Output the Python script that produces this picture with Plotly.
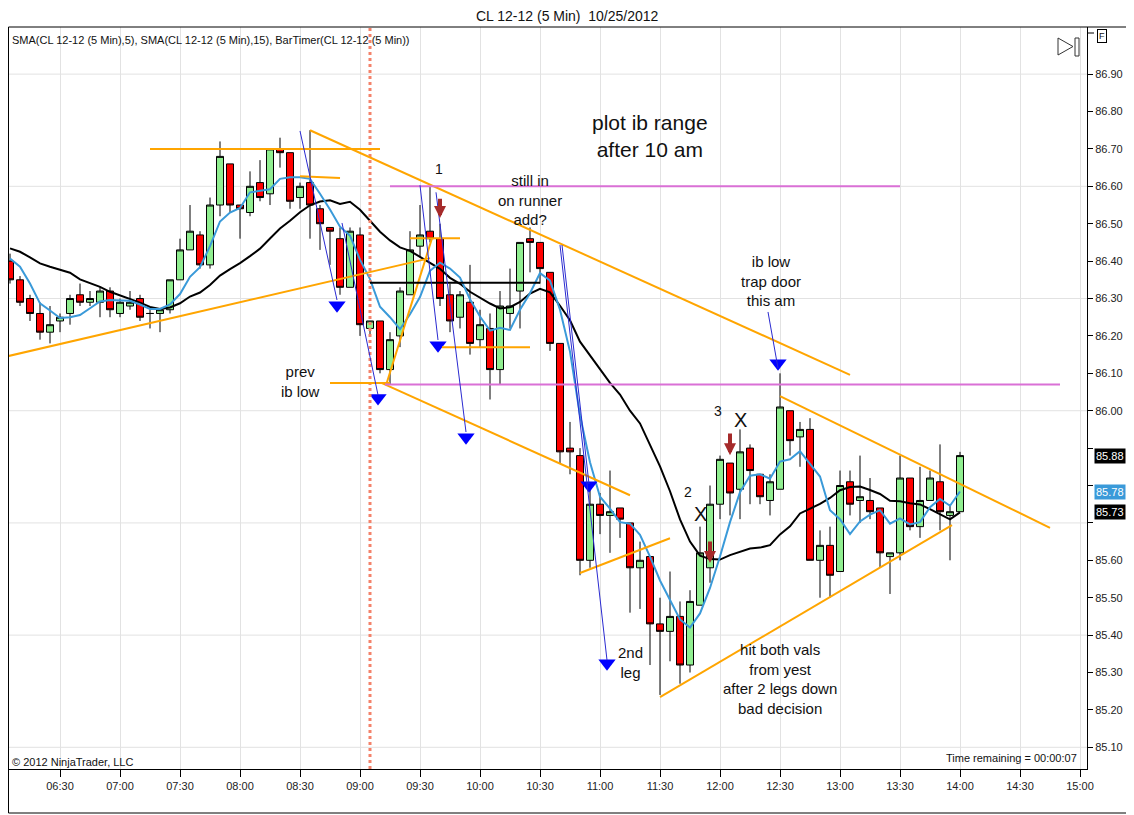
import pandas as pd
import plotly.graph_objects as go

DAY = "2012-10-25 "

# 5 minute bars, 06:05 .. 14:00
times = pd.date_range(DAY + "06:05", periods=96, freq="5min")

opens = [86.40, 86.35, 86.30, 86.26, 86.21, 86.24, 86.26, 86.31, 86.29, 86.29, 86.32, 86.26,
         86.28, 86.30, 86.26, 86.26, 86.27, 86.35, 86.43, 86.47, 86.39, 86.55, 86.66, 86.55,
         86.53, 86.61, 86.58, 86.70, 86.69, 86.57, 86.61, 86.54, 86.49, 86.46, 86.33, 86.47,
         86.22, 86.24, 86.11, 86.20, 86.31, 86.44, 86.48, 86.46, 86.31, 86.25, 86.29, 86.19,
         86.22, 86.11, 86.26, 86.32, 86.46, 86.45, 86.37, 86.18, 85.90, 85.88, 85.60, 85.75,
         85.72, 85.74, 85.70, 85.58, 85.61, 85.43, 85.41, 85.45, 85.32, 85.48, 85.58, 85.75,
         85.86, 85.79, 85.90, 85.83, 85.76, 85.79, 86.00, 85.93, 85.95, 85.60, 85.64, 85.57,
         85.81, 85.76, 85.76, 85.74, 85.61, 85.62, 85.82, 85.69, 85.76, 85.81, 85.72, 85.73]
highs = [86.42, 86.36, 86.31, 86.29, 86.28, 86.26, 86.31, 86.34, 86.32, 86.33, 86.33, 86.30,
         86.32, 86.31, 86.27, 86.27, 86.35, 86.46, 86.55, 86.48, 86.57, 86.72, 86.66, 86.55,
         86.64, 86.67, 86.70, 86.73, 86.69, 86.61, 86.75, 86.55, 86.49, 86.49, 86.49, 86.49,
         86.24, 86.24, 86.21, 86.33, 86.48, 86.55, 86.60, 86.50, 86.34, 86.32, 86.39, 86.27,
         86.26, 86.32, 86.38, 86.45, 86.49, 86.45, 86.37, 86.18, 85.97, 85.90, 85.80, 85.78,
         85.84, 85.74, 85.70, 85.65, 85.61, 85.50, 85.57, 85.49, 85.52, 85.69, 85.80, 85.88,
         85.86, 85.95, 85.91, 85.83, 85.83, 86.10, 86.00, 85.97, 85.98, 85.68, 85.69, 85.84,
         85.84, 85.88, 85.82, 85.74, 85.62, 85.88, 85.82, 85.85, 85.84, 85.91, 85.75, 85.89]
lows = [86.34, 86.28, 86.24, 86.19, 86.18, 86.21, 86.23, 86.28, 86.28, 86.25, 86.25, 86.25,
        86.27, 86.24, 86.22, 86.21, 86.26, 86.35, 86.43, 86.38, 86.38, 86.52, 86.53, 86.46,
        86.52, 86.56, 86.55, 86.65, 86.54, 86.54, 86.46, 86.43, 86.39, 86.31, 86.33, 86.20,
        86.20, 86.10, 86.07, 86.17, 86.31, 86.41, 86.45, 86.28, 86.21, 86.22, 86.15, 86.17,
        86.03, 86.07, 86.22, 86.22, 86.37, 86.34, 86.16, 85.86, 85.83, 85.56, 85.58, 85.67,
        85.62, 85.66, 85.46, 85.47, 85.32, 85.24, 85.33, 85.27, 85.30, 85.48, 85.54, 85.71,
        85.72, 85.71, 85.75, 85.75, 85.72, 85.79, 85.88, 85.85, 85.60, 85.50, 85.50, 85.57,
        85.72, 85.70, 85.71, 85.58, 85.51, 85.60, 85.68, 85.66, 85.76, 85.68, 85.60, 85.73]
closes = [86.35, 86.29, 86.26, 86.21, 86.23, 86.25, 86.30, 86.29, 86.30, 86.32, 86.27, 86.29,
          86.29, 86.25, 86.26, 86.27, 86.35, 86.43, 86.48, 86.39, 86.55, 86.68, 86.55, 86.54,
          86.60, 86.57, 86.70, 86.69, 86.56, 86.60, 86.55, 86.50, 86.48, 86.33, 86.48, 86.23,
          86.24, 86.11, 86.19, 86.32, 86.43, 86.47, 86.46, 86.30, 86.24, 86.31, 86.18, 86.23,
          86.11, 86.28, 86.28, 86.45, 86.45, 86.38, 86.18, 85.89, 85.89, 85.60, 85.75, 85.72,
          85.73, 85.71, 85.58, 85.60, 85.43, 85.41, 85.45, 85.32, 85.49, 85.62, 85.75, 85.87,
          85.78, 85.89, 85.84, 85.77, 85.81, 86.01, 85.92, 85.95, 85.60, 85.64, 85.56, 85.80,
          85.75, 85.77, 85.73, 85.62, 85.62, 85.82, 85.69, 85.76, 85.82, 85.73, 85.73, 85.88]

# indicator values visible on the first bars (need history before 06:05)
sma5_head = [86.407, 86.385, 86.34, 86.287]
sma15_head = [86.434, 86.425, 86.41, 86.394, 86.385, 86.378, 86.369, 86.351, 86.342,
              86.331, 86.318, 86.309, 86.30, 86.289]

# hand drawn objects: (start time, start price, end time, end price)
orange_lines = [
    ("07:15", 86.70, "09:10", 86.70),
    ("08:30", 86.627, "08:50", 86.622),
    ("08:35", 86.75, "13:05", 86.096),
    ("06:00", 86.141, "09:35", 86.408),
    ("09:13", 86.068, "09:36", 86.461),
    ("09:25", 86.461, "09:50", 86.461),
    ("08:45", 86.074, "09:15", 86.074),
    ("09:11", 86.074, "11:15", 85.774),
    ("09:41", 86.17, "10:25", 86.17),
    ("12:30", 86.039, "14:45", 85.687),
    ("11:30", 85.234, "13:56", 85.694),
    ("10:50", 85.566, "11:35", 85.659),
]
black_lines = [("09:05", 86.342, "10:30", 86.342)]
magenta_lines = [("09:15", 86.60, "13:30", 86.60), ("09:12:30", 86.07, "14:50", 86.07)]
blue_lines = [
    ("08:30", 86.748, "08:48:30", 86.296),
    ("08:51", 86.502, "09:09", 86.042),
    ("09:30", 86.603, "09:39", 86.189),
    ("09:38", 86.584, "09:53", 85.943),
    ("10:41", 86.443, "10:54:30", 85.804),
    ("10:40", 86.443, "11:03:30", 85.333),
    ("12:24", 86.264, "12:29", 86.114),
]
blue_head_times = ["08:48:30", "09:09", "09:39", "09:53", "10:54:30", "11:03:30", "12:29"]
blue_head_prices = [86.282, 86.034, 86.175, 85.929, 85.801, 85.325, 86.127]

# dark red signal arrows: time, tip price, tail price
signal_arrows = [("09:40", 86.515, 86.571), ("12:05", 85.881, 85.943), ("11:55", 85.593, 85.654)]

notes = [
    ("11:25", 86.734, "plot ib range<br>after 10 am", 21),
    ("10:25", 86.563, "still in<br>on runner<br>add?", 15),
    ("12:25:30", 86.346, "ib low<br>trap door<br>this am", 15),
    ("08:30", 86.079, "prev<br>ib low", 15),
    ("09:39:30", 86.646, "1", 14),
    ("11:44", 85.782, "2", 14),
    ("11:59", 85.999, "3", 14),
    ("11:50", 85.724, "X", 20),
    ("12:10", 85.975, "X", 20),
    ("11:15", 85.328, "2nd<br>leg", 15),
    ("12:30", 85.282, "hit both vals<br>from yest<br>after 2 legs down<br>bad decision", 15),
]

grid_prices = [85.10, 85.40, 85.70, 86.00, 86.30, 86.60, 86.90]
price_ticks = [round(85.10 + 0.10 * i, 2) for i in range(19)]
session_mark = "09:05"

FONT = "Liberation Sans, Arial, sans-serif"
# the page puts the figure 8px in from the top-left corner
OFF = 8
W, H = 1134 - OFF, 815 - OFF
L, R, T, B = 8, 1087, 27, 769   # plot box in window pixels


def t(hm):
    return DAY + hm if hm.count(":") == 2 else DAY + hm + ":00"


def px(x):
    return (x - L) / (R - L)


def py(y):
    return (B - y) / (B - T)


s = pd.Series(closes)
sma5 = s.rolling(5).mean().tolist()
sma15 = s.rolling(15).mean().tolist()
sma5[:len(sma5_head)] = sma5_head
sma15[:len(sma15_head)] = sma15_head

fig = go.Figure()
fig.add_trace(go.Candlestick(
    x=times, open=opens, high=highs, low=lows, close=closes,
    increasing=dict(fillcolor="#90ee90", line=dict(color="black", width=1)),
    decreasing=dict(fillcolor="#ff0000", line=dict(color="black", width=1)),
    whiskerwidth=0, hoverinfo="skip"))
fig.add_trace(go.Scatter(x=times, y=sma15, mode="lines", line=dict(color="black", width=2)))
fig.add_trace(go.Scatter(x=times, y=sma5, mode="lines", line=dict(color="#3a9ad9", width=2)))

shapes = []
for g in grid_prices:
    shapes.append(dict(type="line", xref="paper", yref="y", x0=0, x1=1, y0=g, y1=g,
                       line=dict(color="#e2e2e2", width=1), layer="below"))
shapes.append(dict(type="line", xref="x", yref="paper", x0=t(session_mark), x1=t(session_mark),
                   y0=0, y1=1, line=dict(color="#f4826a", width=3, dash="dot")))


def add_lines(items, color, width):
    for a, pa, b, pb in items:
        shapes.append(dict(type="line", xref="x", yref="y", x0=t(a), y0=pa, x1=t(b), y1=pb,
                           line=dict(color=color, width=width)))


add_lines(orange_lines, "#ffa500", 2)
add_lines(black_lines, "black", 2)
add_lines(magenta_lines, "#da70d6", 2)
add_lines(blue_lines, "#2a2ad0", 1)

# outer frame, play icon
shapes.append(dict(type="rect", xref="paper", yref="paper", x0=px(8.5), x1=px(1130), y0=py(813),
                   y1=1, line=dict(color="black", width=1)))
shapes.append(dict(type="path", xref="paper", yref="paper",
                   path=f"M {px(1058)} {py(38)} L {px(1058)} {py(55)} L {px(1073)} {py(46.5)} Z",
                   line=dict(color="#333", width=1)))
shapes.append(dict(type="rect", xref="paper", yref="paper", x0=px(1075), x1=px(1079),
                   y0=py(56), y1=py(38), line=dict(color="#333", width=1)))
shapes.append(dict(type="line", xref="paper", yref="paper", x0=1, x1=px(1094), y0=py(33),
                   y1=py(33), line=dict(color="black", width=1)))

fig.add_trace(go.Scatter(x=[t(v) for v in blue_head_times], y=blue_head_prices, mode="markers",
                         marker=dict(symbol="triangle-down", size=15, color="#0000ff")))

annotations = []
for tm, tip, tail in signal_arrows:
    annotations.append(dict(x=t(tm), y=tip, ax=t(tm), ay=tail, xref="x", yref="y",
                            axref="x", ayref="y", showarrow=True, arrowhead=2, arrowsize=0.6,
                            arrowwidth=4, arrowcolor="#a52a2a", text=""))
for tm, p, txt, size in notes:
    annotations.append(dict(x=t(tm), y=p, text=txt, showarrow=False, xref="x", yref="y",
                            xanchor="center", yanchor="middle",
                            font=dict(size=size, color="#111", family=FONT)))


def label(x, y, text, anchor, size=11, **kw):
    annotations.append(dict(x=px(x), y=py(y), xref="paper", yref="paper", xanchor=anchor,
                            yanchor="middle", text=text, showarrow=False,
                            font=dict(size=size, color="#111", family=FONT), **kw))


label(567, 16, "CL 12-12 (5 Min)  10/25/2012", "center", 14)
label(10, 40, "SMA(CL 12-12 (5 Min),5), SMA(CL 12-12 (5 Min),15), BarTimer(CL 12-12 (5 Min))", "left")
label(10, 762, "© 2012 NinjaTrader, LLC", "left")
label(1079, 758, "Time remaining = 00:00:07", "right")
label(1102, 36, "F", "center", 9, bordercolor="black", borderwidth=1, borderpad=1)

# price tags on the axis (they hide the tick labels beneath them)
tags = [(closes[-1], "black"), (sma5[-1], "#3a9ad9"), (sma15[-1], "black")]
for v, c in tags:
    annotations.append(dict(x=px(1094), y=v, xref="paper", yref="y", xanchor="left",
                            yanchor="middle", text=f"{v:.2f}", showarrow=False, bgcolor=c,
                            borderpad=1, font=dict(size=11, color="white", family=FONT)))
fig.add_trace(go.Scatter(x=[t("15:05:30")] * 3, y=[v for v, c in tags], mode="markers",
                         cliponaxis=False,
                         marker=dict(symbol="triangle-left", size=9, color=[c for v, c in tags])))
tick_text = [("" if any(abs(v - tv) < 0.035 for tv, c in tags) else f"{v:.2f}") for v in price_ticks]

fig.update_layout(
    width=W, height=H, showlegend=False,
    margin=dict(l=0, r=1134 - R, t=T - OFF, b=815 - B),
    paper_bgcolor="white", plot_bgcolor="white",
    boxgap=0.3, boxgroupgap=0,
    shapes=shapes, annotations=annotations,
    font=dict(family=FONT),
)
fig.update_xaxes(
    type="date", range=[t("06:04"), t("15:03:30")], rangeslider=dict(visible=False),
    tickformat="%H:%M", dtick=30 * 60 * 1000, tick0=t("06:30"),
    showgrid=True, gridcolor="#e2e2e2", ticks="outside", ticklen=7, tickcolor="black",
    showline=True, linecolor="black", tickfont=dict(size=11, color="#222"),
)
fig.update_yaxes(
    side="right", range=[85.042, 87.026], tickvals=price_ticks, ticktext=tick_text,
    showgrid=False, zeroline=False,
    ticks="outside", ticklen=5, tickcolor="black", showline=True, linecolor="black",
    tickfont=dict(size=11, color="#222"),
)

fig.write_html("out.html")
